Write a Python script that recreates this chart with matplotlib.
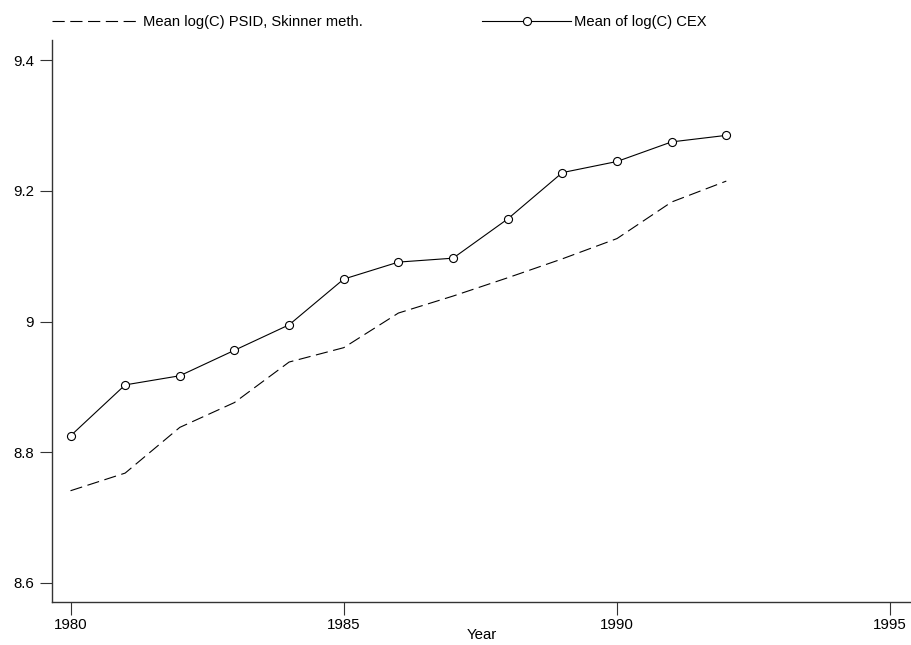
import matplotlib
matplotlib.use("Agg")
import matplotlib.pyplot as plt

plt.rcParams['font.family'] = ['Liberation Sans', 'DejaVu Sans']

years = [1980, 1981, 1982, 1983, 1984, 1985, 1986, 1987, 1988, 1989, 1990, 1991, 1992]
psid = [8.741, 8.768, 8.838, 8.876, 8.938, 8.960, 9.013, 9.039, 9.067, 9.096, 9.127, 9.183, 9.215]
cex = [8.825, 8.903, 8.917, 8.956, 8.995, 9.065, 9.091, 9.097, 9.157, 9.228, 9.245, 9.275, 9.285]

xticks = [1980, 1985, 1990, 1995]
yticks = [8.6, 8.8, 9.0, 9.2, 9.4]
ytick_labels = ['8.6', '8.8', '9', '9.2', '9.4']

fig = plt.figure(figsize=(9.11, 6.45), dpi=100)
ax = fig.add_axes([0.057, 0.067, 0.943, 0.871])

ax.plot(years, psid, color='black', lw=0.8, dashes=(11, 5),
        label='Mean log(C) PSID, Skinner meth.')
ax.plot(years, cex, color='black', lw=0.8, marker='o', ms=5.8,
        mfc='white', mec='black', mew=0.8, label='Mean of log(C) CEX')

ax.set_xlim(1979.66, 1995.38)
ax.set_ylim(8.571, 9.431)
ax.set_xticks(xticks)
ax.set_yticks(yticks)
ax.set_yticklabels(ytick_labels)
ax.set_xlabel('Year', fontsize=10.8, labelpad=-3)

for s in ['top', 'right']:
    ax.spines[s].set_visible(False)
for s in ['left', 'bottom']:
    ax.spines[s].set_linewidth(1.0)
    ax.spines[s].set_color('#333333')
ax.tick_params(axis='both', direction='out', length=9, width=0.8,
               labelsize=10.8, color='#333333')
ax.tick_params(axis='y', pad=4)
ax.tick_params(axis='x', pad=2.5)

fig.legend(loc='upper left', bbox_to_anchor=(52 / 911, 1 - 15 / 645), ncol=2,
           frameon=False, fontsize=10.6, handlelength=6.0, handletextpad=0.2,
           columnspacing=8.1, numpoints=1, borderaxespad=0, borderpad=0)

fig.savefig('out.png', dpi=100)
